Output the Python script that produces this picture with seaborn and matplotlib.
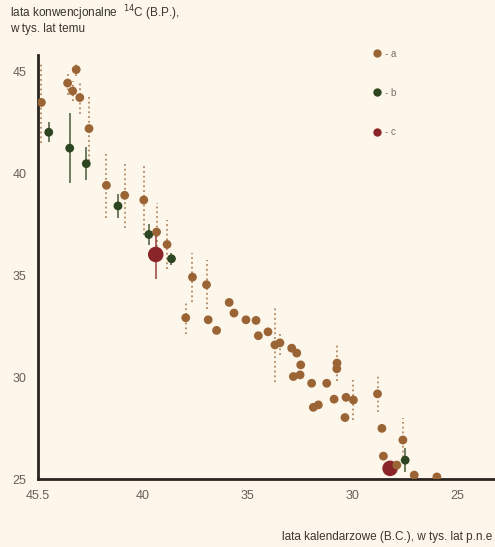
import numpy as np
import pandas as pd
import seaborn as sns
import matplotlib.pyplot as plt

# lata kalendarzowe (tys. lat p.n.e.)
lata_kal = [44.82, 44.47, 43.57, 43.33, 42.99, 43.16, 42.55, 43.47, 42.68, 41.72,
            41.17, 40.85, 39.94, 39.70, 39.33, 38.83, 39.37, 38.62, 37.62, 36.95,
            37.94, 36.87, 36.47, 35.87, 35.64, 35.07, 34.59, 34.48, 34.02, 33.69,
            33.45, 32.89, 32.65, 32.46, 32.81, 32.49, 31.94, 31.22, 30.73, 30.74,
            31.62, 31.86, 30.87, 30.30, 29.95, 30.35, 28.80, 28.59, 27.59, 28.52,
            28.20, 27.48, 27.88, 27.05, 25.97]
# lata konwencjonalne 14C (tys. lat temu)
lata_c14 = [43.46, 42.00, 44.41, 44.02, 43.70, 45.07, 42.18, 41.22, 40.46, 39.40,
            38.39, 38.91, 38.68, 36.99, 37.11, 36.50, 36.01, 35.80, 34.90, 34.53,
            32.91, 32.81, 32.29, 33.66, 33.14, 32.81, 32.78, 32.03, 32.22, 31.58,
            31.68, 31.42, 31.18, 30.60, 30.03, 30.11, 29.70, 29.70, 30.69, 30.41,
            28.64, 28.52, 28.92, 29.01, 28.88, 28.02, 29.18, 27.49, 26.92, 26.13,
            25.53, 25.93, 25.69, 25.20, 25.11]
blad = [2.0, 0.5, 0.6, 0.5, 0.8, 0.3, 1.6, 1.7, 0.8, 1.6,
        0.6, 1.6, 1.7, 0.5, 1.4, 1.2, 1.2, 0.3, 1.2, 1.2,
        0.8, 0.0, 0.0, 0.0, 0.0, 0.0, 0.0, 0.0, 0.0, 1.8,
        0.6, 0.0, 0.0, 0.0, 0.0, 0.0, 0.0, 0.0, 0.9, 0.0,
        0.0, 0.0, 0.0, 0.0, 1.0, 0.0, 0.9, 0.0, 1.1, 0.0,
        0.0, 0.6, 0.0, 0.0, 0.0]
grupa = ["a", "b", "a", "a", "a", "a", "a", "b", "b", "a",
         "b", "a", "a", "b", "a", "a", "c", "b", "a", "a",
         "a", "a", "a", "a", "a", "a", "a", "a", "a", "a",
         "a", "a", "a", "a", "a", "a", "a", "a", "a", "a",
         "a", "a", "a", "a", "a", "a", "a", "a", "a", "a",
         "c", "b", "a", "a", "a"]

x_ticks = [45, 40, 35, 30, 25]
x_labels = ["45.5", "40", "35", "30", "25"]
y_ticks = [25, 30, 35, 40, 45]

kolory = {"a": "#9a6434", "b": "#2d4520", "c": "#8a2629"}
rozmiary = {"a": 40, "b": 40, "c": 125}
styl_bledu = {"a": ":", "b": "-", "c": "-"}

df = pd.DataFrame({"kal": lata_kal, "c14": lata_c14, "err": blad, "grupa": grupa})

sns.set_style("white")
plt.rcParams["font.family"] = ["Liberation Sans", "DejaVu Sans"]
bg = "#fdf6ea"

fig = plt.figure(figsize=(4.95, 5.47), dpi=100, facecolor=bg)
ax = fig.add_axes([0.076, 0.124, 0.924, 0.776], facecolor=bg)

# słupki błędów
for g, sub in df[df["err"] > 0].groupby("grupa"):
    eb = ax.errorbar(sub["kal"], sub["c14"], yerr=sub["err"], fmt="none",
                     ecolor=kolory[g], elinewidth=1.3, alpha=0.75, zorder=1)
    for lc in eb[2]:
        lc.set_linestyle(styl_bledu[g])

sns.scatterplot(data=df, x="kal", y="c14", hue="grupa", size="grupa",
                sizes=rozmiary, palette=kolory, hue_order=["a", "b", "c"],
                edgecolor="none", ax=ax, zorder=3, legend=False)

ax.set_xlim(45.0, 23.2)
ax.set_ylim(25, 45.8)
ax.set_xticks(x_ticks)
ax.set_xticklabels(x_labels)
ax.set_yticks(y_ticks)
ax.set_xlabel("")
ax.set_ylabel("")

for s in ["top", "right"]:
    ax.spines[s].set_visible(False)
for s in ["left", "bottom"]:
    ax.spines[s].set_color("#2a2520")
    ax.spines[s].set_linewidth(2)
ax.tick_params(axis="both", direction="inout", length=6, width=2.5,
               color="#2a2520", labelcolor="#666058", labelsize=9, pad=5)

# legenda
uchwyty = [plt.Line2D([], [], marker="o", linestyle="none", markersize=6,
                      markerfacecolor=kolory[g], markeredgecolor="none") for g in ["a", "b", "c"]]
leg = ax.legend(uchwyty, ["- a", "- b", "- c"], loc="upper left",
                bbox_to_anchor=(0.71, 1.035), frameon=False, fontsize=7,
                labelspacing=3.0, handletextpad=0.2, handlelength=1.2)
for t in leg.get_texts():
    t.set_color("#777068")

fig.text(0.02, 0.993, "lata konwencjonalne  $^{14}$C (B.P.),\nw tys. lat temu",
         ha="left", va="top", fontsize=8.5, color="#3a3530", linespacing=1.0)
fig.text(0.995, 0.018, "lata kalendarzowe (B.C.), w tys. lat p.n.e",
         ha="right", va="center", fontsize=8.5, color="#3a3530")

fig.savefig("out.png", dpi=100, facecolor=bg)
